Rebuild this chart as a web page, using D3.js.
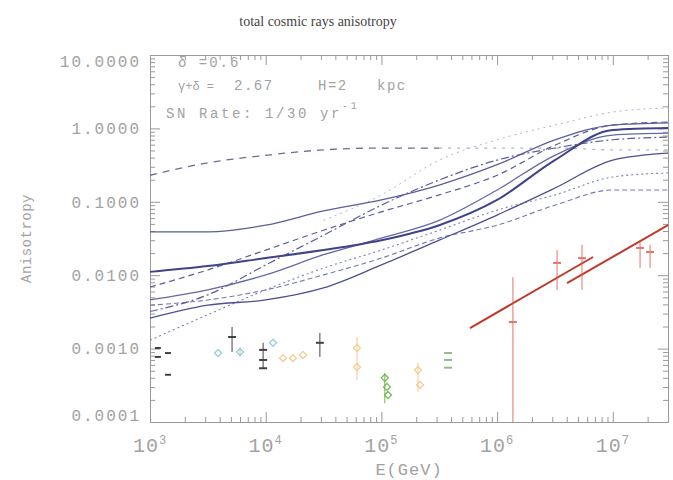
<!DOCTYPE html>
<html>
<head>
<meta charset="utf-8">
<script src="https://cdn.jsdelivr.net/npm/d3@7"></script>
<style>
  body { margin: 0; background: #fff; }
  svg { display: block; }
  .lbl { font-family: "Liberation Mono", "DejaVu Sans Mono", monospace; fill: #a2a2a2; }
</style>
</head>
<body>
<svg id="chart"></svg>
<script>
// energy grid (GeV) shared by the model curves
const energies = [1e3, 3.16e3, 1e4, 3.16e4, 1e5, 3.16e5, 1e6, 3.16e6, 1e7, 3e7];

// model anisotropy curves
const curve1 = [0.039, 0.039, 0.048, 0.075, 0.106, 0.169, 0.32, 0.70, 1.11, 1.19];
const curve2 = [0.0111, 0.0133, 0.0171, 0.022, 0.030, 0.048, 0.106, 0.37, 0.95, 1.01];
const curve3 = [0.0069, 0.0118, 0.022, 0.041, 0.073, 0.124, 0.23, 0.59, 1.11, 1.22];
const curve4 = [0.0046, 0.0063, 0.0101, 0.019, 0.032, 0.056, 0.145, 0.43, 0.81, 0.86];
const curve5 = [0.0032, 0.0054, 0.0138, 0.035, 0.090, 0.198, 0.37, 0.54, 0.70, 0.76];
const curve6 = [0.0026, 0.0039, 0.0046, 0.0067, 0.0138, 0.030, 0.066, 0.154, 0.37, 0.46];
const curve7 = [0.0013, 0.0029, 0.0063, 0.0125, 0.022, 0.041, 0.077, 0.124, 0.218, 0.247];
const curve8 = [0.0039, 0.0046, 0.0063, 0.0101, 0.0171, 0.032, 0.048, 0.090, 0.145, 0.145];
const curve9 = [null, null, null, 0.056, 0.124, 0.37, 0.70, 1.11, 1.67, 1.90];
const topDashed = [0.23, 0.34, 0.43, 0.51, 0.54, 0.54, null, null, null, null];
const topDotted = [null, null, null, null, null, 0.54, 0.54, 0.54, 0.51, 0.51];

// measurements: [E, A, low, high]
const blackDashes = [[1170, 0.00102], [1170, 0.00077], [1430, 0.00087], [1430, 0.00044]];
const blackPts = [[5120, 0.00144, 0.0009, 0.00197], [9500, 0.00096, 0.00054, 0.0012],
  [9500, 0.0007], [9500, 0.00054], [29400, 0.0012, 0.00077, 0.00163]];
const cyanPts = [[3875, 0.00087], [6000, 0.0009, 0.00078, 0.00104], [11560, 0.0012]];
const orangePts = [[14100, 0.00074], [17200, 0.00074], [21000, 0.00082],
  [61500, 0.00102, 0.00037, 0.00144], [61500, 0.00056], [207000, 0.00051, 0.000257, 0.00064], [216000, 0.00032]];
const greenPts = [[107000, 0.0004, 0.00018, 0.000466], [111700, 0.0003], [114000, 0.000233]];
const greenDashes = [[377000, 0.00087], [377000, 0.0007], [377000, 0.00055]];
const redPts = [[1.37e6, 0.0023, 1e-4, 0.0094], [3.3e6, 0.0147, 0.0063, 0.022], [5.42e6, 0.0171, 0.0063, 0.026],
  [1.72e7, 0.0235, 0.0126, 0.030], [2.1e7, 0.0207, 0.0126, 0.026]];
const redFit1 = [[5.83e5, 0.0019], [6.75e6, 0.0177]];
const redFit2 = [[4.02e6, 0.0078], [3e7, 0.048]];

const yTicks = [1e-4, 1e-3, 1e-2, 1e-1, 1, 10];
const yTickLabels = ["0.0001", "0.0010", "0.0100", "0.1000", "1.0000", "10.0000"];
const xTicks = [1e3, 1e4, 1e5, 1e6, 1e7];
const xTickExp = ["3", "4", "5", "6", "7"];

const W = 673, H = 480;
const margin = { left: 150, right: 5, top: 55, bottom: 58 };
const innerW = W - margin.left - margin.right;
const innerH = H - margin.top - margin.bottom;

const svg = d3.select("#chart").attr("width", W).attr("height", H);
const g = svg.append("g").attr("transform", `translate(${margin.left},${margin.top})`);

const x = d3.scaleLog().domain([1e3, 3e7]).range([0, innerW]);
const y = d3.scaleLog().domain([1e-4, 10]).range([innerH, 0]);

// minor / major tick values
const xMinor = [], yMinor = [];
for (let d = 3; d <= 7; d++) for (let k = 2; k <= 9; k++) { const v = k * 10 ** d; if (v <= 3e7) xMinor.push(v); }
for (let d = -4; d <= 0; d++) for (let k = 2; k <= 9; k++) yMinor.push(k * 10 ** d);

function styleAxis(sel) {
  sel.select(".domain").attr("stroke", "#999");
  sel.selectAll(".tick line").attr("stroke", "#999");
}
g.append("g").attr("transform", `translate(0,${innerH})`)
  .call(d3.axisBottom(x).tickValues(xMinor).tickSize(-5).tickFormat("")).call(styleAxis);
g.append("g").attr("transform", `translate(0,${innerH})`)
  .call(d3.axisBottom(x).tickValues(xTicks).tickSize(-10).tickFormat("")).call(styleAxis);
g.append("g").call(d3.axisTop(x).tickValues(xMinor).tickSize(-5).tickFormat("")).call(styleAxis);
g.append("g").call(d3.axisTop(x).tickValues(xTicks).tickSize(-10).tickFormat("")).call(styleAxis);
g.append("g").call(d3.axisLeft(y).tickValues(yMinor).tickSize(-5).tickFormat("")).call(styleAxis);
g.append("g").call(d3.axisLeft(y).tickValues(yTicks).tickSize(-10).tickFormat("")).call(styleAxis);
g.append("g").attr("transform", `translate(${innerW},0)`)
  .call(d3.axisRight(y).tickValues(yMinor).tickSize(-5).tickFormat("")).call(styleAxis);
g.append("g").attr("transform", `translate(${innerW},0)`)
  .call(d3.axisRight(y).tickValues(yTicks).tickSize(-10).tickFormat("")).call(styleAxis);

// y tick labels
g.selectAll(".ylab").data(yTicks).enter().append("text")
  .attr("class", "lbl")
  .attr("x", -9)
  .attr("y", (d) => Math.min(Math.max(y(d), 6), innerH - 7))
  .attr("dy", "0.36em")
  .attr("text-anchor", "end")
  .attr("font-size", 16)
  .attr("letter-spacing", 2)
  .text((d, i) => yTickLabels[i]);

// x tick labels 10^n
const xl = g.selectAll(".xlab").data(xTicks).enter().append("text")
  .attr("class", "lbl")
  .attr("x", (d) => x(d))
  .attr("y", innerH + 30)
  .attr("text-anchor", "middle")
  .attr("font-size", 20)
  .attr("letter-spacing", 1);
xl.append("tspan").text("10");
xl.append("tspan").attr("dy", -8).attr("font-size", 12).text((d, i) => xTickExp[i]);

// axis titles
svg.append("text").attr("class", "lbl")
  .attr("x", margin.left + innerW / 2).attr("y", H - 5)
  .attr("text-anchor", "middle").attr("font-size", 17).attr("letter-spacing", 1)
  .text("E(GeV)");
svg.append("text").attr("class", "lbl")
  .attr("transform", `translate(31,${margin.top + innerH / 2}) rotate(-90)`)
  .attr("text-anchor", "middle").attr("font-size", 14).attr("letter-spacing", 0.5)
  .text("Anisotropy");

svg.append("text")
  .attr("x", 318).attr("y", 26)
  .attr("text-anchor", "middle")
  .attr("font-family", "Liberation Serif, serif")
  .attr("font-size", 14)
  .attr("fill", "#444")
  .text("total cosmic rays anisotropy");

// annotations
const ann = svg.append("g").attr("class", "lbl").attr("font-size", 14);
ann.append("text").attr("x", 178).attr("y", 67).attr("letter-spacing", 2).text("δ =0.6");
const t2 = ann.append("text").attr("y", 90);
t2.append("tspan").attr("x", 178).attr("font-size", 12).text("γ+δ =");
t2.append("tspan").attr("x", 234).attr("letter-spacing", 1.5).text("2.67");
t2.append("tspan").attr("x", 318).attr("letter-spacing", 1.5).text("H=2");
t2.append("tspan").attr("x", 377).attr("letter-spacing", 1.5).text("kpc");
const t3 = ann.append("text").attr("x", 166).attr("y", 118).attr("letter-spacing", 2.6);
t3.append("tspan").text("SN Rate: 1/30 yr");
t3.append("tspan").attr("dy", -9).attr("font-size", 10).text("-1");

// model curves
const line = d3.line()
  .defined((d) => d[1] != null)
  .x((d) => x(d[0]))
  .y((d) => y(d[1]))
  .curve(d3.curveMonotoneX);

const curves = [
  { v: topDotted, c: "#b4b4c8", w: 1.3, dash: "3,6" },
  { v: topDashed, c: "#6c6c8e", w: 1.3, dash: "7,6" },
  { v: curve9, c: "#aeb1d6", w: 1, dash: "2,4" },
  { v: curve7, c: "#7c80b8", w: 1.1, dash: "2,3" },
  { v: curve8, c: "#7478b0", w: 1.1, dash: "5,3" },
  { v: curve6, c: "#4c5092", w: 1.3, dash: null },
  { v: curve5, c: "#5a5e9c", w: 1.2, dash: "8,3,2,3" },
  { v: curve4, c: "#6468a6", w: 1.3, dash: null },
  { v: curve3, c: "#5a5e9c", w: 1.2, dash: "6,4" },
  { v: curve1, c: "#5a5e9c", w: 1.3, dash: null },
  { v: curve2, c: "#3f4388", w: 2, dash: null },
];

g.append("g").selectAll("path").data(curves).enter().append("path")
  .attr("d", (s) => line(energies.map((e, i) => [e, s.v[i]])))
  .attr("fill", "none")
  .attr("stroke", (s) => s.c)
  .attr("stroke-width", (s) => s.w)
  .attr("stroke-dasharray", (s) => s.dash);

// red fits
g.append("g").selectAll("path").data([redFit1, redFit2]).enter().append("path")
  .attr("d", (d) => d3.line().x((p) => x(p[0])).y((p) => y(p[1]))(d))
  .attr("stroke", "#c0392b").attr("stroke-width", 2).attr("fill", "none");

// measurements
function drawPts(data, color, shape, r, op) {
  const grp = g.append("g").attr("opacity", op);
  grp.selectAll(".err").data(data.filter((d) => d[2] != null)).enter().append("line")
    .attr("x1", (d) => x(d[0])).attr("x2", (d) => x(d[0]))
    .attr("y1", (d) => y(d[2])).attr("y2", (d) => y(d[3]))
    .attr("stroke", color).attr("stroke-width", 1);
  if (shape === "dash") {
    grp.selectAll(".m").data(data).enter().append("line")
      .attr("x1", (d) => x(d[0]) - r).attr("x2", (d) => x(d[0]) + r)
      .attr("y1", (d) => y(d[1])).attr("y2", (d) => y(d[1]))
      .attr("stroke", color).attr("stroke-width", 2);
  } else {
    grp.selectAll(".m").data(data).enter().append("path")
      .attr("transform", (d) => `translate(${x(d[0])},${y(d[1])})`)
      .attr("d", d3.symbol(shape === "diamond" ? d3.symbolDiamond2 : d3.symbolCross, r * r * 2)())
      .attr("fill", shape === "diamond" ? "none" : color)
      .attr("stroke", color).attr("stroke-width", 1.2);
  }
}
drawPts(blackDashes, "#222", "dash", 3, 0.85);
drawPts(cyanPts, "#5fb8c8", "diamond", 4, 0.7);
drawPts(blackPts, "#222", "dash", 4, 0.85);
drawPts(orangePts, "#f0a640", "diamond", 4, 0.6);
drawPts(greenPts, "#62b13a", "diamond", 4, 0.9);
drawPts(greenDashes, "#66a050", "dash", 4, 0.7);
drawPts(redPts, "#e0524a", "dash", 4, 0.8);
</script>
</body>
</html>
